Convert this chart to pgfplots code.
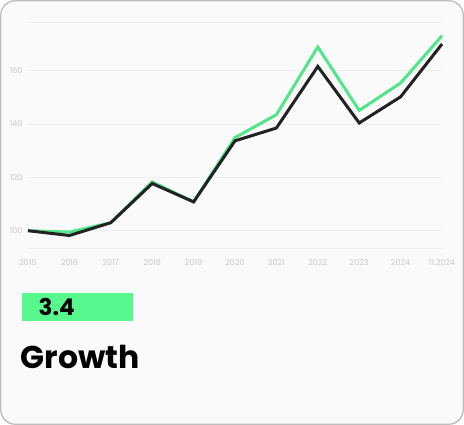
\documentclass[border=0pt]{standalone}
\usepackage{pgfplots}
\pgfplotsset{compat=1.18}
\usepackage{fontspec}
\setmainfont{Poppins}
\definecolor{cardbg}{HTML}{FAFAFA}
\definecolor{cardborder}{HTML}{BDBDBD}
\definecolor{gridc}{HTML}{EFEFEF}
\definecolor{tickc}{HTML}{C8C8C8}
\definecolor{linegreen}{HTML}{52E58A}
\definecolor{lineblack}{HTML}{222222}
\definecolor{boxgreen}{HTML}{57F98F}
\begin{document}
\begin{tikzpicture}[x=1pt,y=1pt]
\useasboundingbox (0,0) rectangle (464,425);
\draw[draw=cardborder, fill=cardbg, line width=1.3pt, rounded corners=14pt] (0.8,0.8) rectangle (463.2,424.2);
\begin{axis}[
  at={(28pt,176.7pt)}, anchor=south west,
  scale only axis, width=414pt, height=225.6pt,
  xmin=0, xmax=10, ymin=93.4, ymax=178,
  axis line style={draw=none},
  tick style={draw=none},
  ymajorgrids,
  grid style={gridc, line width=0.8pt},
  ytick={100,120,140,160},
  extra y ticks={93.4,178}, extra y tick labels={},
  extra y tick style={grid=major},
  xtick={0,1,2,3,4,5,6,7,8,9,10},
  xticklabels={2015,2016,2017,2018,2019,2020,2021,2022,2023,2024,11.2024},
  ticklabel style={font=\fontsize{8}{9}\selectfont, text=tickc},
  yticklabel style={xshift=-2pt},
  xticklabel style={yshift=-8pt},
  /pgf/number format/assume math mode=true,
  clip=false,
]
\addplot[linegreen, line width=3pt, line join=miter] coordinates {
 (0,100) (1,99.5) (2,103) (3,118.3) (4,110.8) (5,134.9) (6,143.5) (7,168.9) (8,145.1) (9,155.4) (10,173.1)};
\addplot[lineblack, line width=3pt, line join=miter] coordinates {
 (0,100) (1,98.2) (2,103) (3,117.7) (4,110.8) (5,133.7) (6,138.5) (7,161.6) (8,140.4) (9,150.2) (10,170)};
\end{axis}
\fill[boxgreen] (22,104.3) rectangle (133,131.7);
\node[anchor=base west, inner sep=0pt, font=\fontsize{23}{23}\selectfont\bfseries] at (38.5,109.3) {3.4};
\node[anchor=base west, inner sep=0pt, font=\fontsize{31.5}{31.5}\selectfont\bfseries] at (20.5,56.3) {Growth};
\end{tikzpicture}
\end{document}
